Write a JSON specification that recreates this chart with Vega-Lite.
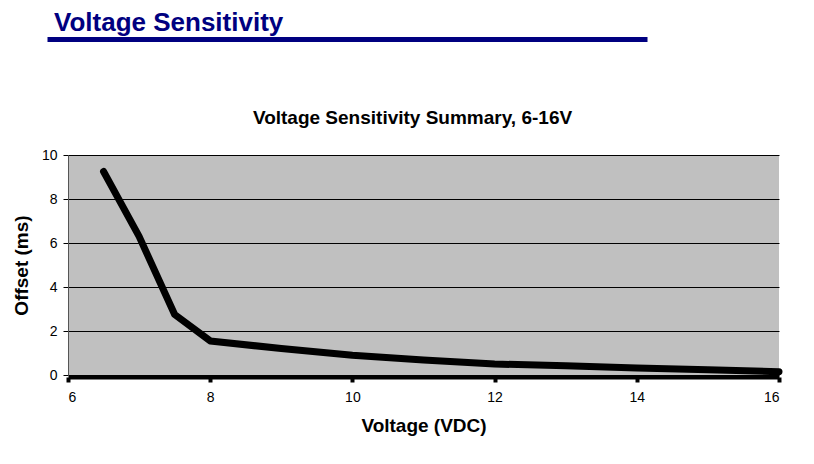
{
  "$schema": "https://vega.github.io/schema/vega-lite/v6.json",
  "width": 711,
  "height": 220,
  "autosize": {"type": "pad"},
  "padding": {"left": 12, "top": 10, "right": 10, "bottom": 10},
  "background": "white",
  "title": {
    "text": "Voltage Sensitivity",
    "anchor": "start",
    "frame": "group",
    "dx": -14,
    "offset": 3,
    "fontSize": 26,
    "fontWeight": "bold",
    "font": "Liberation Sans",
    "color": "#000080"
  },
  "data": {
    "values": [
      {"voltage": 6.5, "offset": 9.25},
      {"voltage": 7, "offset": 6.3},
      {"voltage": 7.5, "offset": 2.75},
      {"voltage": 8, "offset": 1.55},
      {"voltage": 9, "offset": 1.2},
      {"voltage": 10, "offset": 0.9},
      {"voltage": 11, "offset": 0.68},
      {"voltage": 12, "offset": 0.5},
      {"voltage": 13, "offset": 0.42},
      {"voltage": 14, "offset": 0.32},
      {"voltage": 15, "offset": 0.24},
      {"voltage": 16, "offset": 0.15}
    ]
  },
  "layer": [
    {
      "mark": {"type": "line", "color": "black", "strokeWidth": 7, "strokeCap": "round", "strokeJoin": "round"},
      "encoding": {
        "x": {
          "field": "voltage",
          "type": "quantitative",
          "scale": {"domain": [6, 16], "nice": false, "zero": false},
          "axis": {
            "orient": "bottom",
            "values": [6, 8, 10, 12, 14, 16],
            "grid": false,
            "offset": 2,
            "domainColor": "black",
            "domainWidth": 4,
            "tickColor": "black",
            "tickWidth": 4,
            "tickSize": 5,
            "labelFontSize": 14,
            "labelColor": "black",
            "labelPadding": 8,
            "title": "Voltage (VDC)",
            "titleFontSize": 19,
            "titleFontWeight": "bold",
            "titleColor": "black",
            "titlePadding": 12
          }
        },
        "y": {
          "field": "offset",
          "type": "quantitative",
          "scale": {"domain": [0, 10], "nice": false},
          "axis": {
            "values": [0, 2, 4, 6, 8, 10],
            "grid": true,
            "gridColor": "black",
            "gridWidth": 1,
            "gridOpacity": 1,
            "domainColor": "#555555",
            "domainWidth": 1,
            "tickColor": "black",
            "tickSize": 5,
            "labelFontSize": 14,
            "labelColor": "black",
            "labelPadding": 6,
            "title": "Offset (ms)",
            "titleFontSize": 19,
            "titleFontWeight": "bold",
            "titleColor": "black",
            "titlePadding": 10
          }
        }
      }
    },
    {
      "mark": {"type": "line", "opacity": 0},
      "encoding": {
        "x": {
          "field": "voltage",
          "type": "quantitative",
          "scale": {"domain": [6, 16], "nice": false, "zero": false, "range": [-21, 579]},
          "axis": {
            "orient": "top",
            "offset": 116,
            "grid": false,
            "labels": false,
            "ticks": false,
            "domain": true,
            "domainColor": "#000080",
            "domainWidth": 5,
            "title": "Voltage Sensitivity Summary, 6-16V",
            "titleX": 344,
            "titleY": 84,
            "titleAlign": "center",
            "titleBaseline": "alphabetic",
            "titleAngle": 0,
            "titleFontSize": 19,
            "titleFontWeight": "bold",
            "titleColor": "black"
          }
        },
        "y": {"field": "offset", "type": "quantitative"}
      }
    }
  ],
  "resolve": {"scale": {"x": "independent"}},
  "config": {
    "font": "Liberation Sans",
    "view": {"fill": "#C0C0C0", "stroke": null}
  }
}
